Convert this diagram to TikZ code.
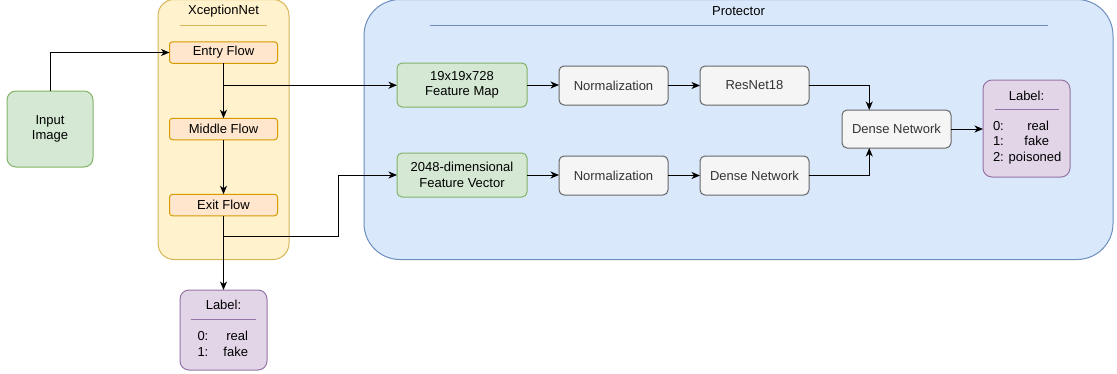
\documentclass[tikz,border=0pt]{standalone}
\usepackage{fontspec}
\setmainfont{Liberation Sans}
\usetikzlibrary{arrows.meta,calc}

\definecolor{greenfill}{HTML}{D5E8D4}
\definecolor{greenline}{HTML}{82B366}
\definecolor{yellowfill}{HTML}{FFF2CC}
\definecolor{yellowline}{HTML}{D6B656}
\definecolor{orangefill}{HTML}{FFE6CC}
\definecolor{orangeline}{HTML}{D79B00}
\definecolor{bluefill}{HTML}{DAE8FC}
\definecolor{blueline}{HTML}{6C8EBF}
\definecolor{purplefill}{HTML}{E1D5E7}
\definecolor{purpleline}{HTML}{9673A6}
\definecolor{greyfill}{HTML}{F5F5F5}
\definecolor{greyline}{HTML}{666666}
\definecolor{greytext}{HTML}{333333}

\tikzset{
  base/.style={inner sep=0pt, outer sep=0pt, line width=1pt, align=center,
    font=\fontsize{13}{15.5}\selectfont},
  greenbox/.style={base, draw=greenline, fill=greenfill, rounded corners=5pt},
  flowbox/.style={base, draw=orangeline, fill=orangefill, rounded corners=3pt,
    minimum width=108pt, minimum height=21.5pt},
  greybox/.style={base, draw=greyline, fill=greyfill, text=greytext,
    rounded corners=5pt, minimum width=109pt, minimum height=39pt},
  labelbox/.style={base, draw=purpleline, fill=purplefill, rounded corners=9pt,
    minimum width=87pt},
  txt/.style={inner sep=0pt, outer sep=0pt, font=\fontsize{13}{15.5}\selectfont},
  arr/.style={line width=1pt, draw=black,
    -{Stealth[length=8.5pt,width=7pt,inset=2.5pt]}},
}

\begin{document}
\begin{tikzpicture}[x=1pt,y=-1pt]
\useasboundingbox (0,0) rectangle (1117,373);

% containers
\node[base, draw=yellowline, fill=yellowfill, rounded corners=16pt,
      minimum width=131pt, minimum height=260pt] (xnet) at (223.5,129.5) {};
\node[txt] (xnettitle) at (223.5,11) {XceptionNet};
\draw[yellowline, line width=1pt] ($(xnet.north west)+(22,25.5)$) -- ($(xnet.north east)+(-22,25.5)$);

\node[base, draw=blueline, fill=bluefill, rounded corners=36pt,
      minimum width=749pt, minimum height=260pt] (prot) at (738.5,129.5) {};
\node[txt] (prottitle) at (738.5,11) {Protector};
\draw[blueline, line width=1pt] ($(prot.north west)+(66,25.5)$) -- ($(prot.north east)+(-65,25.5)$);

% input
\node[greenbox, rounded corners=9pt, minimum width=86pt, minimum height=76pt] (img) at (50,129) {Input\\Image};

% XceptionNet stages
\node[flowbox] (entry) at (223.5,52.5) {Entry Flow};
\node[flowbox] (middle) at (223.5,129) {Middle Flow};
\node[flowbox] (exit) at (223.5,205) {Exit Flow};

% output of XceptionNet
\node[labelbox, minimum height=80pt] (lblx) at (223.5,330) {};
\node[txt] (lblxtitle) at (223.5,305) {Label:};
\draw[purpleline, line width=1pt] (191,319.5) -- (256,319.5);
\node[txt, anchor=west] (lblxrows) at (197.5,345) {%
  \begin{tabular}{@{}l@{}}\makebox[50.5pt]{0:\hfill real}\\[0.5pt]\makebox[50.5pt]{1:\hfill fake}\end{tabular}};

% Protector
\node[greenbox, minimum width=130pt, minimum height=44pt] (fmap) at (462,85) {19x19x728\\Feature Map};
\node[greenbox, minimum width=130pt, minimum height=44pt] (fvec) at (462,175) {2048-dimensional\\Feature Vector};
\node[greybox] (norma) at (613.5,85.5) {Normalization};
\node[greybox] (normb) at (613.5,175.5) {Normalization};
\node[greybox] (resnet) at (754.5,85.5) {ResNet18};
\node[greybox] (densea) at (754.5,175.5) {Dense Network};
\node[greybox, minimum height=38pt] (dense) at (896.5,129) {Dense Network};

\node[labelbox, minimum height=97pt] (lblp) at (1026.5,128.5) {};
\node[txt] (lblptitle) at (1026.5,96) {Label:};
\draw[purpleline, line width=1pt] (995,109.5) -- (1059,109.5);
\node[txt, anchor=west] (lblprows) at (993,142.5) {%
  \begin{tabular}{@{}l@{}}\makebox[56pt]{0:\hfill real}\\\makebox[56pt]{1:\hfill fake}\\2: poisoned\end{tabular}};

% connectors
\coordinate (splita) at ($(entry.south)!0.4!(middle.north)$);
\coordinate (splitb) at ($(exit.south)!0.28!(lblx.north)$);
\coordinate (bend) at ($(fvec.west)+(-59,0)$);

\draw[arr] (img.north) |- (entry.west);
\draw[arr] (entry.south) -- (middle.north);
\draw[arr] (middle.south) -- (exit.north);
\draw[arr] (exit.south) -- (lblx.north);
\draw[arr] (splita) -- (splita -| fmap.west);
\draw[arr] (splitb) -| (bend) -- (fvec.west);

\draw[arr] (fmap.east) -- (fmap.east -| norma.west);
\draw[arr] (norma.east) -- (resnet.west);
\draw[arr] (fvec.east) -- (fvec.east -| normb.west);
\draw[arr] (normb.east) -- (densea.west);
\draw[arr] (resnet.east) -| ($(dense.north west)!0.25!(dense.north east)$);
\draw[arr] (densea.east) -| ($(dense.south west)!0.25!(dense.south east)$);
\draw[arr] (dense.east) -- (dense.east -| lblp.west);
\end{tikzpicture}
\end{document}
